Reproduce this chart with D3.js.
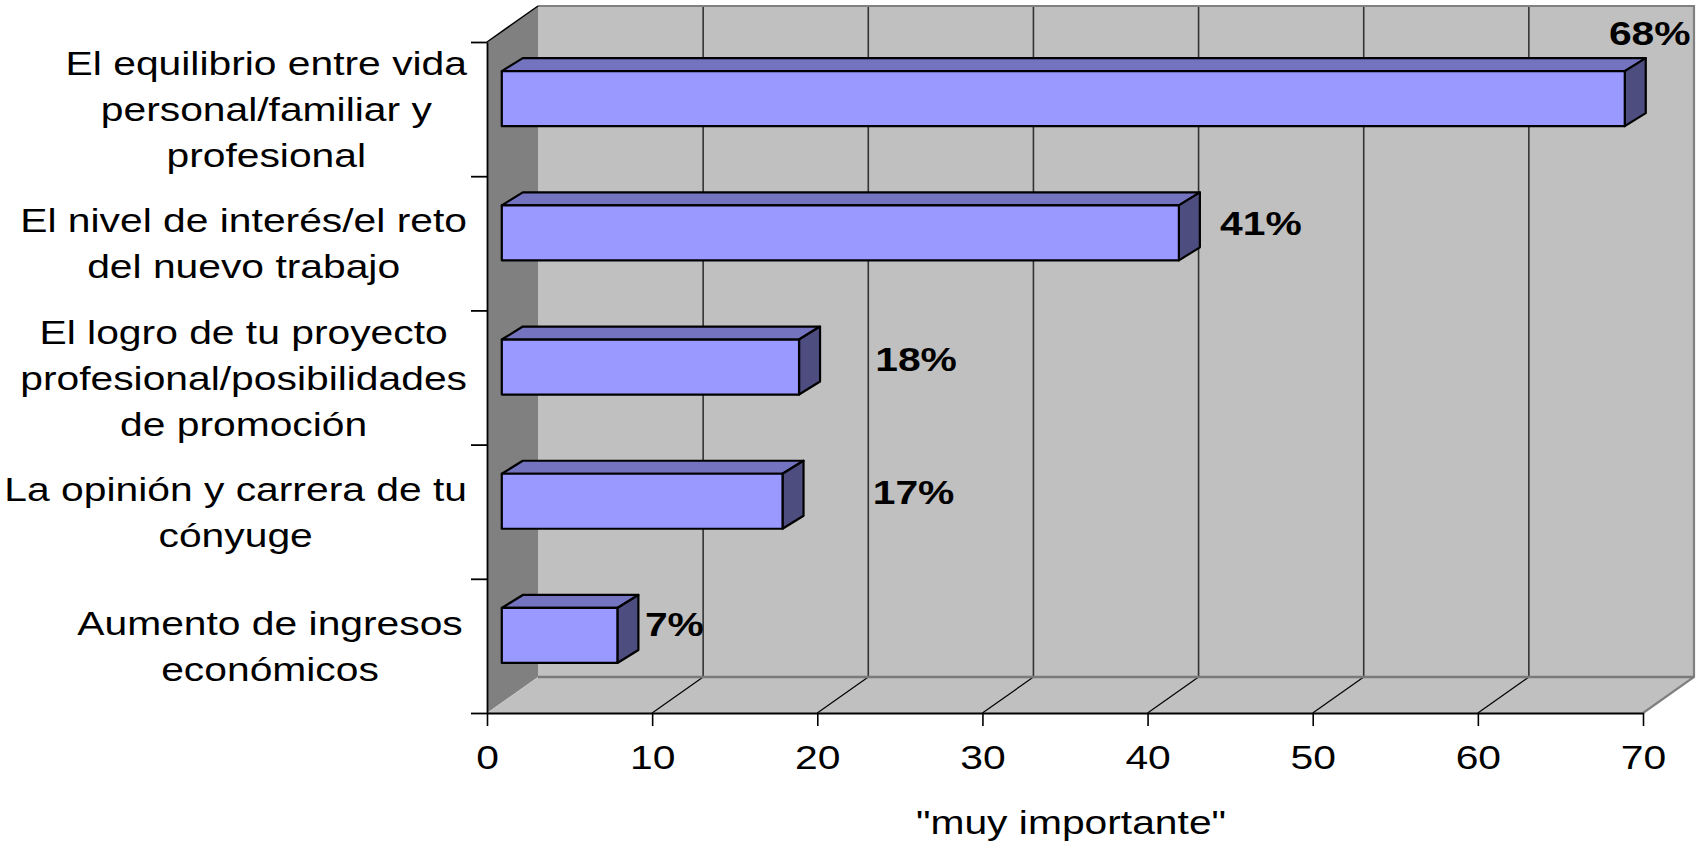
<!DOCTYPE html>
<html>
<head>
<meta charset="utf-8">
<script src="https://cdn.jsdelivr.net/npm/d3@7"></script>
<style>
  html, body { margin: 0; padding: 0; background: #ffffff; }
  svg { display: block; }
  text { font-family: "Liberation Sans", Arial, sans-serif; fill: #000; }
</style>
</head>
<body>
<svg id="chart" width="1707" height="843"></svg>
<script>
// ---------------- DATA ----------------
const categories = [
  "El equilibrio entre vida\npersonal/familiar y\nprofesional",
  "El nivel de interés/el reto\ndel nuevo trabajo",
  "El logro de tu proyecto\nprofesional/posibilidades\nde promoción",
  "La opinión y carrera de tu\ncónyuge",
  "Aumento de ingresos\neconómicos"
];
const values = [68, 41, 18, 17, 7];
const valueLabels = ["68%", "41%", "18%", "17%", "7%"];
const xTicks = [0, 10, 20, 30, 40, 50, 60, 70];
const xDomain = [0, 70];
const axisTitle = "\"muy importante\"";

// ---------------- LAYOUT ----------------
const X0 = 487, X1 = 1643, YT = 42, YB = 713;
const DX = 51, DY = -36;             // wall depth
const T1 = 0.29;                     // bar front position in depth
const BDX = 21, BDY = -13;           // bar depth
const BAR_H = 55;
const FS = 34, SX = 1.2;             // font size & horizontal stretch
const LINE_H = 46;
// label nudges (dx from bar end, dy of baseline from bar centre)
const labelNudge = [[25, -54], [82, 2], [117, 4], [131, 3], [57, 1]];

const svg = d3.select("#chart");
const x = d3.scaleLinear().domain(xDomain).range([X0, X1]);
const y = d3.scaleBand().domain(d3.range(categories.length)).range([YT, YB]);
const yLin = d3.scaleLinear().domain([0, categories.length]).range([YT, YB]);

const pts = a => a.map(p => p.join(",")).join(" ");

// back wall
svg.append("polygon")
  .attr("points", pts([[X0 + DX, YT + DY], [X1 + DX, YT + DY], [X1 + DX, YB + DY], [X0 + DX, YB + DY]]))
  .attr("fill", "#c0c0c0");
// side wall
svg.append("polygon")
  .attr("points", pts([[X0, YT], [X0 + DX, YT + DY], [X0 + DX, YB + DY], [X0, YB]]))
  .attr("fill", "#808080");
// floor
svg.append("polygon")
  .attr("points", pts([[X0, YB], [X1, YB], [X1 + DX, YB + DY], [X0 + DX, YB + DY]]))
  .attr("fill", "#c0c0c0");

// back wall gridlines
const inner = xTicks.filter(v => v > xDomain[0] && v < xDomain[1]);
svg.append("g").selectAll("line").data(inner).join("line")
  .attr("x1", d => x(d) + DX).attr("x2", d => x(d) + DX)
  .attr("y1", YT + DY).attr("y2", YB + DY)
  .attr("stroke", "#333").attr("stroke-width", 1.6);
// floor diagonals
svg.append("g").selectAll("line").data(inner).join("line")
  .attr("x1", d => x(d)).attr("y1", YB)
  .attr("x2", d => x(d) + DX).attr("y2", YB + DY)
  .attr("stroke", "#000").attr("stroke-width", 1.2);

// wall borders (grey)
svg.append("polyline")
  .attr("points", pts([[X0 + DX, YT + DY], [X1 + DX, YT + DY], [X1 + DX, YB + DY], [X1, YB]]))
  .attr("fill", "none").attr("stroke", "#808080").attr("stroke-width", 2.2);
svg.append("line")
  .attr("x1", X0 + DX).attr("y1", YB + DY).attr("x2", X1 + DX).attr("y2", YB + DY)
  .attr("stroke", "#7a7a7a").attr("stroke-width", 2.5);
// side wall top edge
svg.append("line")
  .attr("x1", X0).attr("y1", YT).attr("x2", X0 + DX).attr("y2", YT + DY)
  .attr("stroke", "#000").attr("stroke-width", 1.5);

// bars
const bars = svg.append("g").selectAll("g").data(values).join("g");
bars.each(function (v, i) {
  const g = d3.select(this);
  const fx0 = x(0) + T1 * DX, fx1 = x(v) + T1 * DX;
  const cy = y(i) + y.bandwidth() / 2 + T1 * DY;
  const top = cy - BAR_H / 2, bot = cy + BAR_H / 2;
  const st = { stroke: "#000", "stroke-width": 2.2, "stroke-linejoin": "round" };
  const apply = sel => { Object.entries(st).forEach(([k, val]) => sel.attr(k, val)); return sel; };
  apply(g.append("polygon")
    .attr("points", pts([[fx0, top], [fx0 + BDX, top + BDY], [fx1 + BDX, top + BDY], [fx1, top]]))
    .attr("fill", "#7373bf"));
  apply(g.append("polygon")
    .attr("points", pts([[fx1, top], [fx1 + BDX, top + BDY], [fx1 + BDX, bot + BDY], [fx1, bot]]))
    .attr("fill", "#4d4d80"));
  apply(g.append("rect")
    .attr("x", fx0).attr("y", top).attr("width", fx1 - fx0).attr("height", BAR_H)
    .attr("fill", "#9999ff"));
  // value label
  g.append("text")
    .attr("transform", `translate(${fx1 + labelNudge[i][0]},${cy + labelNudge[i][1]}) scale(${SX},1)`)
    .attr("text-anchor", "middle")
    .attr("font-size", FS).attr("font-weight", "bold")
    .text(valueLabels[i]);
});

// left axis
const yAxis = svg.append("g").attr("transform", `translate(${X0},0)`)
  .call(d3.axisLeft(yLin).tickValues(d3.range(categories.length + 1)).tickFormat("").tickSize(16).tickSizeOuter(0));
yAxis.selectAll("path,line").attr("stroke", "#000").attr("stroke-width", 1.8);

// bottom axis
const xAxis = svg.append("g").attr("transform", `translate(0,${YB})`)
  .call(d3.axisBottom(x).tickValues(xTicks).tickSize(13).tickSizeOuter(0));
xAxis.select(".domain").attr("stroke", "#000").attr("stroke-width", 2);
xAxis.selectAll(".tick line").attr("stroke", "#000").attr("stroke-width", 1.6);
xAxis.selectAll(".tick text")
  .attr("y", null).attr("dy", null)
  .attr("transform", `translate(0,56) scale(${SX},1)`)
  .attr("font-size", FS).attr("font-family", "Liberation Sans, Arial, sans-serif")
  .attr("fill", "#000");

// axis title
svg.append("text")
  .attr("transform", `translate(${(X0 + X1) / 2 + 6},834) scale(${SX},1)`)
  .attr("text-anchor", "middle").attr("font-size", FS)
  .text(axisTitle);

// category labels
const catG = svg.append("g").selectAll("g").data(categories).join("g");
catG.each(function (c, i) {
  const g = d3.select(this);
  const lines = c.split("\n");
  const n = lines.length;
  const cyBand = y(i) + y.bandwidth() / 2;
  const texts = lines.map((ln, j) => g.append("text")
    .attr("text-anchor", "middle")
    .attr("font-size", FS)
    .attr("data-base", cyBand + (j - (n - 1) / 2) * LINE_H + 12)
    .text(ln));
  const maxW = d3.max(texts, t => t.node().getComputedTextLength()) * SX;
  const cx = Math.min(270, 467 - maxW / 2);
  texts.forEach(t => t.attr("transform", `translate(${cx},${t.attr("data-base")}) scale(${SX},1)`));
});
</script>
</body>
</html>
